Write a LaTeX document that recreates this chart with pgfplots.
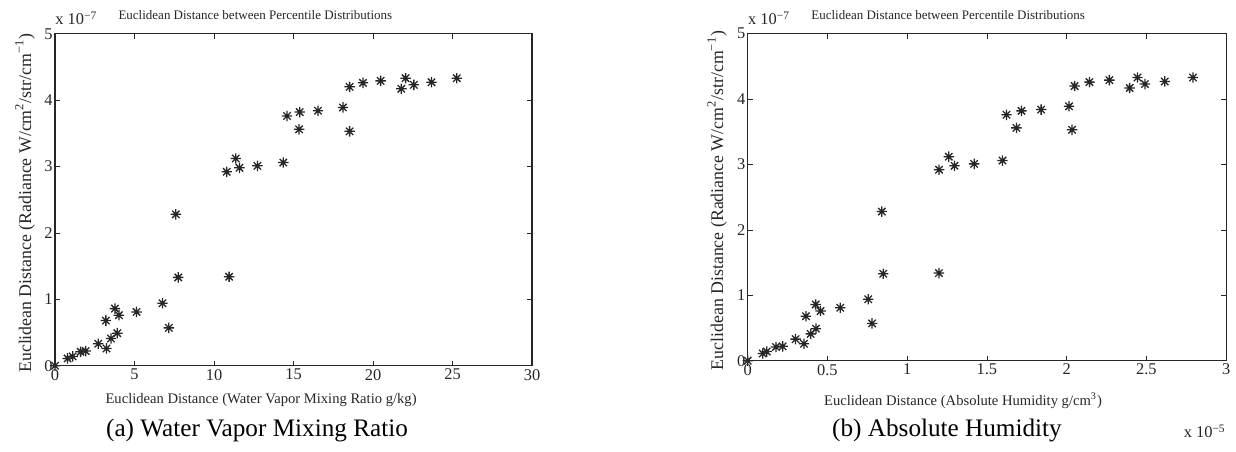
\documentclass[border=0pt]{standalone}
\usepackage{fontspec}
\setmainfont{Liberation Serif}
\usepackage{pgfplots}
\pgfplotsset{compat=1.18}

% MATLAB style '*' marker: plus and cross on top of each other
\pgfdeclareplotmark{mstar}{%
  \pgfpathmoveto{\pgfqpoint{-\pgfplotmarksize}{0pt}}%
  \pgfpathlineto{\pgfqpoint{\pgfplotmarksize}{0pt}}%
  \pgfpathmoveto{\pgfqpoint{0pt}{-\pgfplotmarksize}}%
  \pgfpathlineto{\pgfqpoint{0pt}{\pgfplotmarksize}}%
  \pgfpathmoveto{\pgfqpoint{-0.707\pgfplotmarksize}{-0.707\pgfplotmarksize}}%
  \pgfpathlineto{\pgfqpoint{0.707\pgfplotmarksize}{0.707\pgfplotmarksize}}%
  \pgfpathmoveto{\pgfqpoint{-0.707\pgfplotmarksize}{0.707\pgfplotmarksize}}%
  \pgfpathlineto{\pgfqpoint{0.707\pgfplotmarksize}{-0.707\pgfplotmarksize}}%
  \pgfusepathqstroke}

\definecolor{axgray}{HTML}{262626}

\pgfplotsset{
  mplot/.style={
    scale only axis,
    ymin=0, ymax=5, ytick={0,1,2,3,4,5},
    scaled ticks=false,
    axis line style={line width=0.6pt, axgray},
    tick align=inside, major tick length=2.6pt,
    tick style={axgray, line width=0.4pt},
    xtick pos=both, ytick pos=both,
    xticklabel pos=lower, yticklabel pos=left,
    ticklabel style={font=\fontsize{8.2}{9}\selectfont, text=axgray},
    xticklabel style={inner sep=1pt, yshift=-0.5pt},
    yticklabel style={inner sep=1pt},
    /pgf/number format/assume math mode=true,
    label style={font=\fontsize{7.3}{8.6}\selectfont, text=axgray},
    ylabel style={font=\fontsize{8.9}{10}\selectfont},
    clip=false,
  },
  mstars/.style={only marks, mark=mstar, mark size=2.6pt,
    mark options={line width=0.65pt, draw=axgray}},
}
\tikzset{
  smalltxt/.style={inner sep=0pt, font=\fontsize{8.2}{9}\selectfont, text=axgray},
  ttl/.style={font=\fontsize{6.5}{7.8}\selectfont, text=axgray, inner sep=0pt},
}

\begin{document}
\begin{tikzpicture}
\useasboundingbox (0,0) rectangle (618pt,225.5pt);

% (a) water vapor mixing ratio
\begin{axis}[mplot,
  at={(27.5pt,42.65pt)}, anchor=south west,
  width=238.5pt, height=166pt,
  xmin=0, xmax=30, xtick={0,5,10,15,20,25,30},
  xlabel={Euclidean Distance (Water Vapor Mixing Ratio g/kg)},
  xlabel style={at={(axis description cs:0.432,0)}, anchor=center, yshift=-17pt},
  ylabel={Euclidean Distance (Radiance W/cm\textsuperscript{2}/str/cm\textsuperscript{−1})},
  ylabel style={at={(axis description cs:-0.063,0.49)}, anchor=center},
]
\addplot+[mstars] coordinates {
(0,0) (0.79,0.11) (1.11,0.14) (1.61,0.21) (1.93,0.22) (2.72,0.33)
(3.24,0.26) (3.20,0.68) (3.52,0.41) (3.77,0.86) (3.92,0.49) (4.02,0.76)
(5.13,0.81) (6.76,0.94) (7.16,0.57) (7.60,2.28) (7.75,1.33) (10.95,1.34)
(10.80,2.92) (11.37,3.12) (11.60,2.98) (12.73,3.01) (14.36,3.06) (14.59,3.76)
(15.39,3.82) (15.35,3.56) (16.54,3.84) (18.11,3.89) (18.53,3.53) (18.53,4.20)
(19.37,4.26) (20.48,4.29) (21.78,4.17) (22.05,4.33) (22.57,4.23) (23.68,4.27)
(25.27,4.33)};
\node[ttl] at (rel axis cs:0.42,1) [yshift=9.3pt] {Euclidean Distance between Percentile Distributions};
\node[smalltxt, anchor=base west] at (rel axis cs:0,1) [yshift=4.4pt] {x 10\textsuperscript{−7}};
\end{axis}

% (b) absolute humidity
\begin{axis}[mplot,
  at={(373.85pt,45.15pt)}, anchor=south west,
  width=239.2pt, height=163.5pt,
  xmin=0, xmax=3, xtick={0,0.5,1,1.5,2,2.5,3},
  xlabel={Euclidean Distance (Absolute Humidity g/cm\textsuperscript{3})},
  xlabel style={at={(axis description cs:0.45,0)}, anchor=center, yshift=-20pt},
  ylabel={Euclidean Distance (Radiance W/cm\textsuperscript{2}/str/cm\textsuperscript{−1})},
  ylabel style={at={(axis description cs:-0.064,0.49)}, anchor=center},
]
\addplot+[mstars] coordinates {
(0,0) (0.094,0.11) (0.119,0.14) (0.177,0.21) (0.219,0.22) (0.300,0.33)
(0.353,0.26) (0.365,0.68) (0.395,0.41) (0.426,0.86) (0.428,0.49) (0.457,0.76)
(0.580,0.81) (0.756,0.94) (0.780,0.57) (0.841,2.28) (0.850,1.33) (1.199,1.34)
(1.200,2.92) (1.261,3.12) (1.297,2.98) (1.420,3.01) (1.598,3.06) (1.623,3.76)
(1.717,3.82) (1.685,3.56) (1.840,3.84) (2.015,3.89) (2.034,3.53) (2.050,4.20)
(2.143,4.26) (2.268,4.29) (2.395,4.17) (2.444,4.33) (2.491,4.23) (2.615,4.27)
(2.792,4.33)};
\node[ttl] at (rel axis cs:0.419,1) [yshift=9.3pt] {Euclidean Distance between Percentile Distributions};
\node[smalltxt, anchor=base west] at (rel axis cs:0,1) [yshift=4.4pt] {x 10\textsuperscript{−7}};
\node[smalltxt, anchor=base east] at (rel axis cs:1,0) [yshift=-38.5pt] {x 10\textsuperscript{−5}};
\end{axis}

% sub-figure captions
\node[font=\fontsize{12.6}{15}\selectfont, text=black] at (128.5pt,10.5pt) {(a) Water Vapor Mixing Ratio};
\node[font=\fontsize{12.6}{15}\selectfont, text=black] at (473.5pt,10.5pt) {(b) Absolute Humidity};
\end{tikzpicture}
\end{document}
